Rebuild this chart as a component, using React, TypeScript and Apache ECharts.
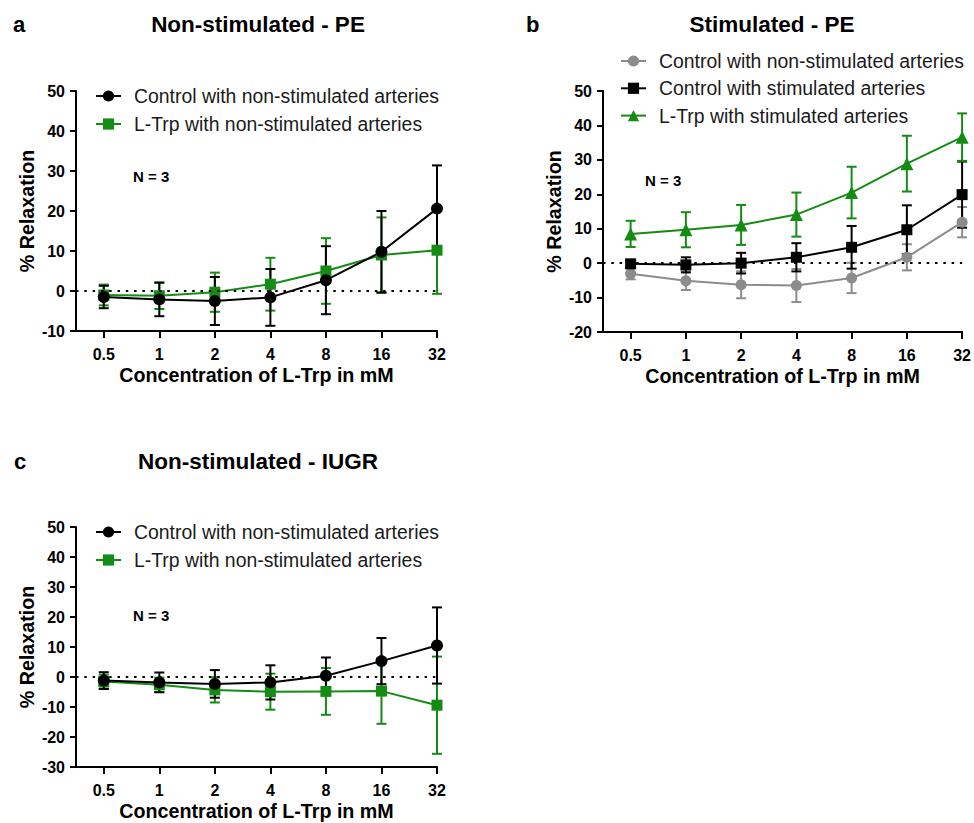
import React, { useEffect, useRef } from "react";
import * as echarts from "echarts";

// ---------- data ----------
const concentrations = ["0.5", "1", "2", "4", "8", "16", "32"];

// Panel a: Non-stimulated - PE
const aControlMean = [-1.5, -2.1, -2.5, -1.6, 2.7, 9.8, 20.6];
const aControlSem = [2.8, 4.2, 6.0, 7.1, 8.5, 10.2, 10.8];
const aLtrpMean = [-1.0, -1.2, -0.3, 1.7, 5.0, 9.0, 10.2];
const aLtrpSem = [2.6, 3.3, 4.9, 6.6, 8.2, 9.4, 10.9];

// Panel b: Stimulated - PE
const bCtrlNonMean = [-3.1, -5.1, -6.3, -6.5, -4.3, 1.7, 11.9];
const bCtrlNonSem = [1.6, 2.7, 3.9, 4.8, 4.4, 3.8, 4.4];
const bCtrlStimMean = [-0.2, -0.5, 0.0, 1.7, 4.6, 9.7, 19.9];
const bCtrlStimSem = [1.0, 2.2, 3.0, 4.1, 6.2, 7.1, 9.6];
const bLtrpStimMean = [8.5, 9.7, 11.1, 14.1, 20.5, 28.9, 36.6];
const bLtrpStimSem = [3.8, 5.1, 5.8, 6.4, 7.5, 8.1, 6.9];

// Panel c: Non-stimulated - IUGR
const cControlMean = [-1.2, -1.8, -2.3, -1.8, 0.4, 5.3, 10.5];
const cControlSem = [2.8, 3.3, 4.6, 5.7, 6.1, 7.7, 12.7];
const cLtrpMean = [-1.5, -2.6, -4.3, -4.9, -4.8, -4.7, -9.4];
const cLtrpSem = [2.3, 2.4, 4.2, 6.0, 7.8, 10.9, 16.2];

const yRangeA = [-10, 50];
const yRangeB = [-20, 50];
const yRangeC = [-30, 50];

const nameControlNon = "Control with non-stimulated arteries";
const nameLtrpNon = "L-Trp with non-stimulated arteries";
const nameControlStim = "Control with stimulated arteries";
const nameLtrpStim = "L-Trp with stimulated arteries";

// ---------- styles ----------
const FONT = "'Liberation Sans', Arial, Helvetica, sans-serif";
const GREEN = "#148c14";
const BLACK = "#000000";
const GRAY = "#8c8c8c";

type Item = {
  name: string;
  mean: number[];
  sem: number[];
  color: string;
  symbol: string;
  size: number;
};

function errRender(color: string) {
  return (params: any, api: any) => {
    const x = api.value(0);
    const m = api.value(1);
    const s = api.value(2);
    const top = api.coord([x, m + s]);
    const bot = api.coord([x, m - s]);
    const hw = 5;
    const st = { stroke: color, lineWidth: 2 };
    return {
      type: "group",
      children: [
        { type: "line", shape: { x1: top[0], y1: top[1], x2: bot[0], y2: bot[1] }, style: st },
        { type: "line", shape: { x1: top[0] - hw, y1: top[1], x2: top[0] + hw, y2: top[1] }, style: st },
        { type: "line", shape: { x1: bot[0] - hw, y1: bot[1], x2: bot[0] + hw, y2: bot[1] }, style: st },
      ],
    };
  };
}

function panelSeries(prefix: string, idx: number, items: Item[]) {
  const out: any[] = [];
  items.forEach((it, k) => {
    out.push({
      type: "custom",
      name: prefix + "|err|" + it.name,
      xAxisIndex: idx,
      yAxisIndex: idx,
      renderItem: errRender(it.color),
      encode: { x: 0, y: 1 },
      data: it.mean.map((m, i) => [i, m, it.sem[i]]),
      silent: true,
    });
    const line: any = {
      type: "line",
      name: prefix + "|" + it.name,
      xAxisIndex: idx,
      yAxisIndex: idx,
      data: it.mean.map((m, i) => [i, m]),
      symbol: it.symbol,
      symbolSize: it.size,
      showSymbol: true,
      itemStyle: { color: it.color },
      lineStyle: { color: it.color, width: 2 },
      silent: true,
    };
    if (k === 0) {
      line.markLine = {
        silent: true,
        symbol: "none",
        label: { show: false },
        lineStyle: { color: BLACK, type: [2.5, 5.8], width: 2 },
        data: [{ yAxis: 0 }],
      };
    }
    out.push(line);
  });
  return out;
}

function xAxisFor(idx: number) {
  return {
    type: "value",
    gridIndex: idx,
    min: -0.5,
    max: 6,
    name: "Concentration of L-Trp in mM",
    nameLocation: "middle",
    nameGap: 34,
    nameTextStyle: { fontFamily: FONT, fontSize: 19.7, fontWeight: "bold", color: BLACK },
    axisLine: { show: true, onZero: false, lineStyle: { color: BLACK, width: 2 } },
    axisTick: {
      show: true,
      length: 7,
      lineStyle: { color: BLACK, width: 2 },
      customValues: [0, 1, 2, 3, 4, 5, 6],
    },
    axisLabel: {
      show: true,
      margin: 15,
      fontFamily: FONT,
      fontSize: 16,
      fontWeight: "bold",
      color: BLACK,
      customValues: [0, 1, 2, 3, 4, 5, 6],
      formatter: (v: number) => concentrations[Math.round(v)] ?? "",
    },
    splitLine: { show: false },
  };
}

function yAxisFor(idx: number, range: number[]) {
  return {
    type: "value",
    gridIndex: idx,
    min: range[0],
    max: range[1],
    interval: 10,
    name: "% Relaxation",
    nameLocation: "middle",
    nameRotate: 90,
    nameGap: 39,
    nameTextStyle: { fontFamily: FONT, fontSize: 19.7, fontWeight: "bold", color: BLACK },
    axisLine: { show: true, onZero: false, lineStyle: { color: BLACK, width: 2 } },
    axisTick: { show: true, length: 6, lineStyle: { color: BLACK, width: 2 } },
    axisLabel: {
      margin: 11,
      fontFamily: FONT,
      fontSize: 16,
      fontWeight: "bold",
      color: BLACK,
    },
    splitLine: { show: false },
  };
}

function legendFor(prefix: string, names: string[], left: number, top: number, gap: number) {
  return {
    show: true,
    orient: "vertical",
    left,
    top,
    padding: 0,
    itemGap: gap,
    itemWidth: 25,
    itemHeight: 14,
    selectedMode: false,
    data: names.map((n) => prefix + "|" + n),
    formatter: (n: string) => n.split("|").slice(1).join("|"),
    textStyle: {
      fontFamily: FONT,
      fontSize: 19.4,
      color: "#1a1a1a",
      padding: [0, 0, 0, 8],
    },
  };
}

function txt(text: string, x: number, y: number, size: number, align = "left", weight = "bold") {
  return {
    type: "text",
    x,
    y,
    silent: true,
    style: {
      text,
      fontFamily: FONT,
      fontSize: size,
      fontWeight: weight,
      fill: BLACK,
      textAlign: align,
      textVerticalAlign: "middle",
    },
  };
}

export default function App() {
  const ref = useRef<HTMLDivElement>(null);
  useEffect(() => {
    if (!ref.current) return;
    const chart = echarts.init(ref.current, undefined, { renderer: "svg" });

    const itemsA: Item[] = [
      { name: nameLtrpNon, mean: aLtrpMean, sem: aLtrpSem, color: GREEN, symbol: "rect", size: 11 },
      { name: nameControlNon, mean: aControlMean, sem: aControlSem, color: BLACK, symbol: "circle", size: 12 },
    ];
    const itemsB: Item[] = [
      { name: nameControlNon, mean: bCtrlNonMean, sem: bCtrlNonSem, color: GRAY, symbol: "circle", size: 11 },
      { name: nameControlStim, mean: bCtrlStimMean, sem: bCtrlStimSem, color: BLACK, symbol: "rect", size: 11 },
      { name: nameLtrpStim, mean: bLtrpStimMean, sem: bLtrpStimSem, color: GREEN, symbol: "triangle", size: 13 },
    ];
    const itemsC: Item[] = [
      { name: nameLtrpNon, mean: cLtrpMean, sem: cLtrpSem, color: GREEN, symbol: "rect", size: 11 },
      { name: nameControlNon, mean: cControlMean, sem: cControlSem, color: BLACK, symbol: "circle", size: 12 },
    ];

    const option: any = {
      animation: false,
      backgroundColor: "#ffffff",
      grid: [
        { left: 76, top: 91, width: 361, height: 240, containLabel: false },
        { left: 603, top: 91, width: 360, height: 241, containLabel: false },
        { left: 76, top: 527, width: 361, height: 240, containLabel: false },
      ],
      xAxis: [xAxisFor(0), xAxisFor(1), xAxisFor(2)],
      yAxis: [yAxisFor(0, yRangeA), yAxisFor(1, yRangeB), yAxisFor(2, yRangeC)],
      legend: [
        legendFor("a", [nameControlNon, nameLtrpNon], 95, 86.5, 9),
        legendFor("b", [nameControlNon, nameControlStim, nameLtrpStim], 620, 51.5, 8.3),
        legendFor("c", [nameControlNon, nameLtrpNon], 95, 522.5, 9),
      ],
      series: [
        ...panelSeries("a", 0, itemsA),
        ...panelSeries("b", 1, itemsB),
        ...panelSeries("c", 2, itemsC),
      ],
      graphic: [
        txt("a", 13, 24.5, 22),
        txt("Non-stimulated - PE", 258, 24.5, 22.5, "center"),
        txt("b", 526, 24.5, 22),
        txt("Stimulated - PE", 772, 24.5, 22.5, "center"),
        txt("c", 14, 461, 22),
        txt("Non-stimulated - IUGR", 258, 461, 22.5, "center"),
        txt("N = 3", 133, 176.5, 15),
        txt("N = 3", 645, 180.5, 15),
        txt("N = 3", 133, 615.5, 15),
      ],
    };
    chart.setOption(option);
    return () => chart.dispose();
  }, []);

  return (
    <div
      ref={ref}
      style={{ position: "absolute", left: 0, top: 0, width: 974, height: 823, background: "#fff" }}
    />
  );
}
